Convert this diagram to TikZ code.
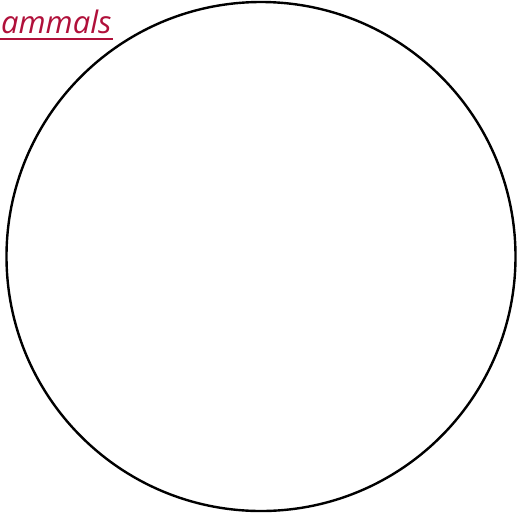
\documentclass[tikz,border=0pt]{standalone}
\usepackage{fontspec}
\setmainfont{Open Sans}
\definecolor{titlered}{HTML}{B0103A}
\begin{document}
\begin{tikzpicture}[x=1pt,y=-1pt]
\useasboundingbox (0,0) rectangle (518,515);
\node[anchor=base west,inner sep=0pt,text=titlered,font=\fontsize{31}{36}\selectfont\itshape] (title) at (1,33) {ammals};
\draw[titlered,line width=2pt] (0,38.5) -- (113,38.5);
\draw[line width=2.4pt] (261,256.5) circle[radius=254.5] node (venn) {};
\end{tikzpicture}
\end{document}
